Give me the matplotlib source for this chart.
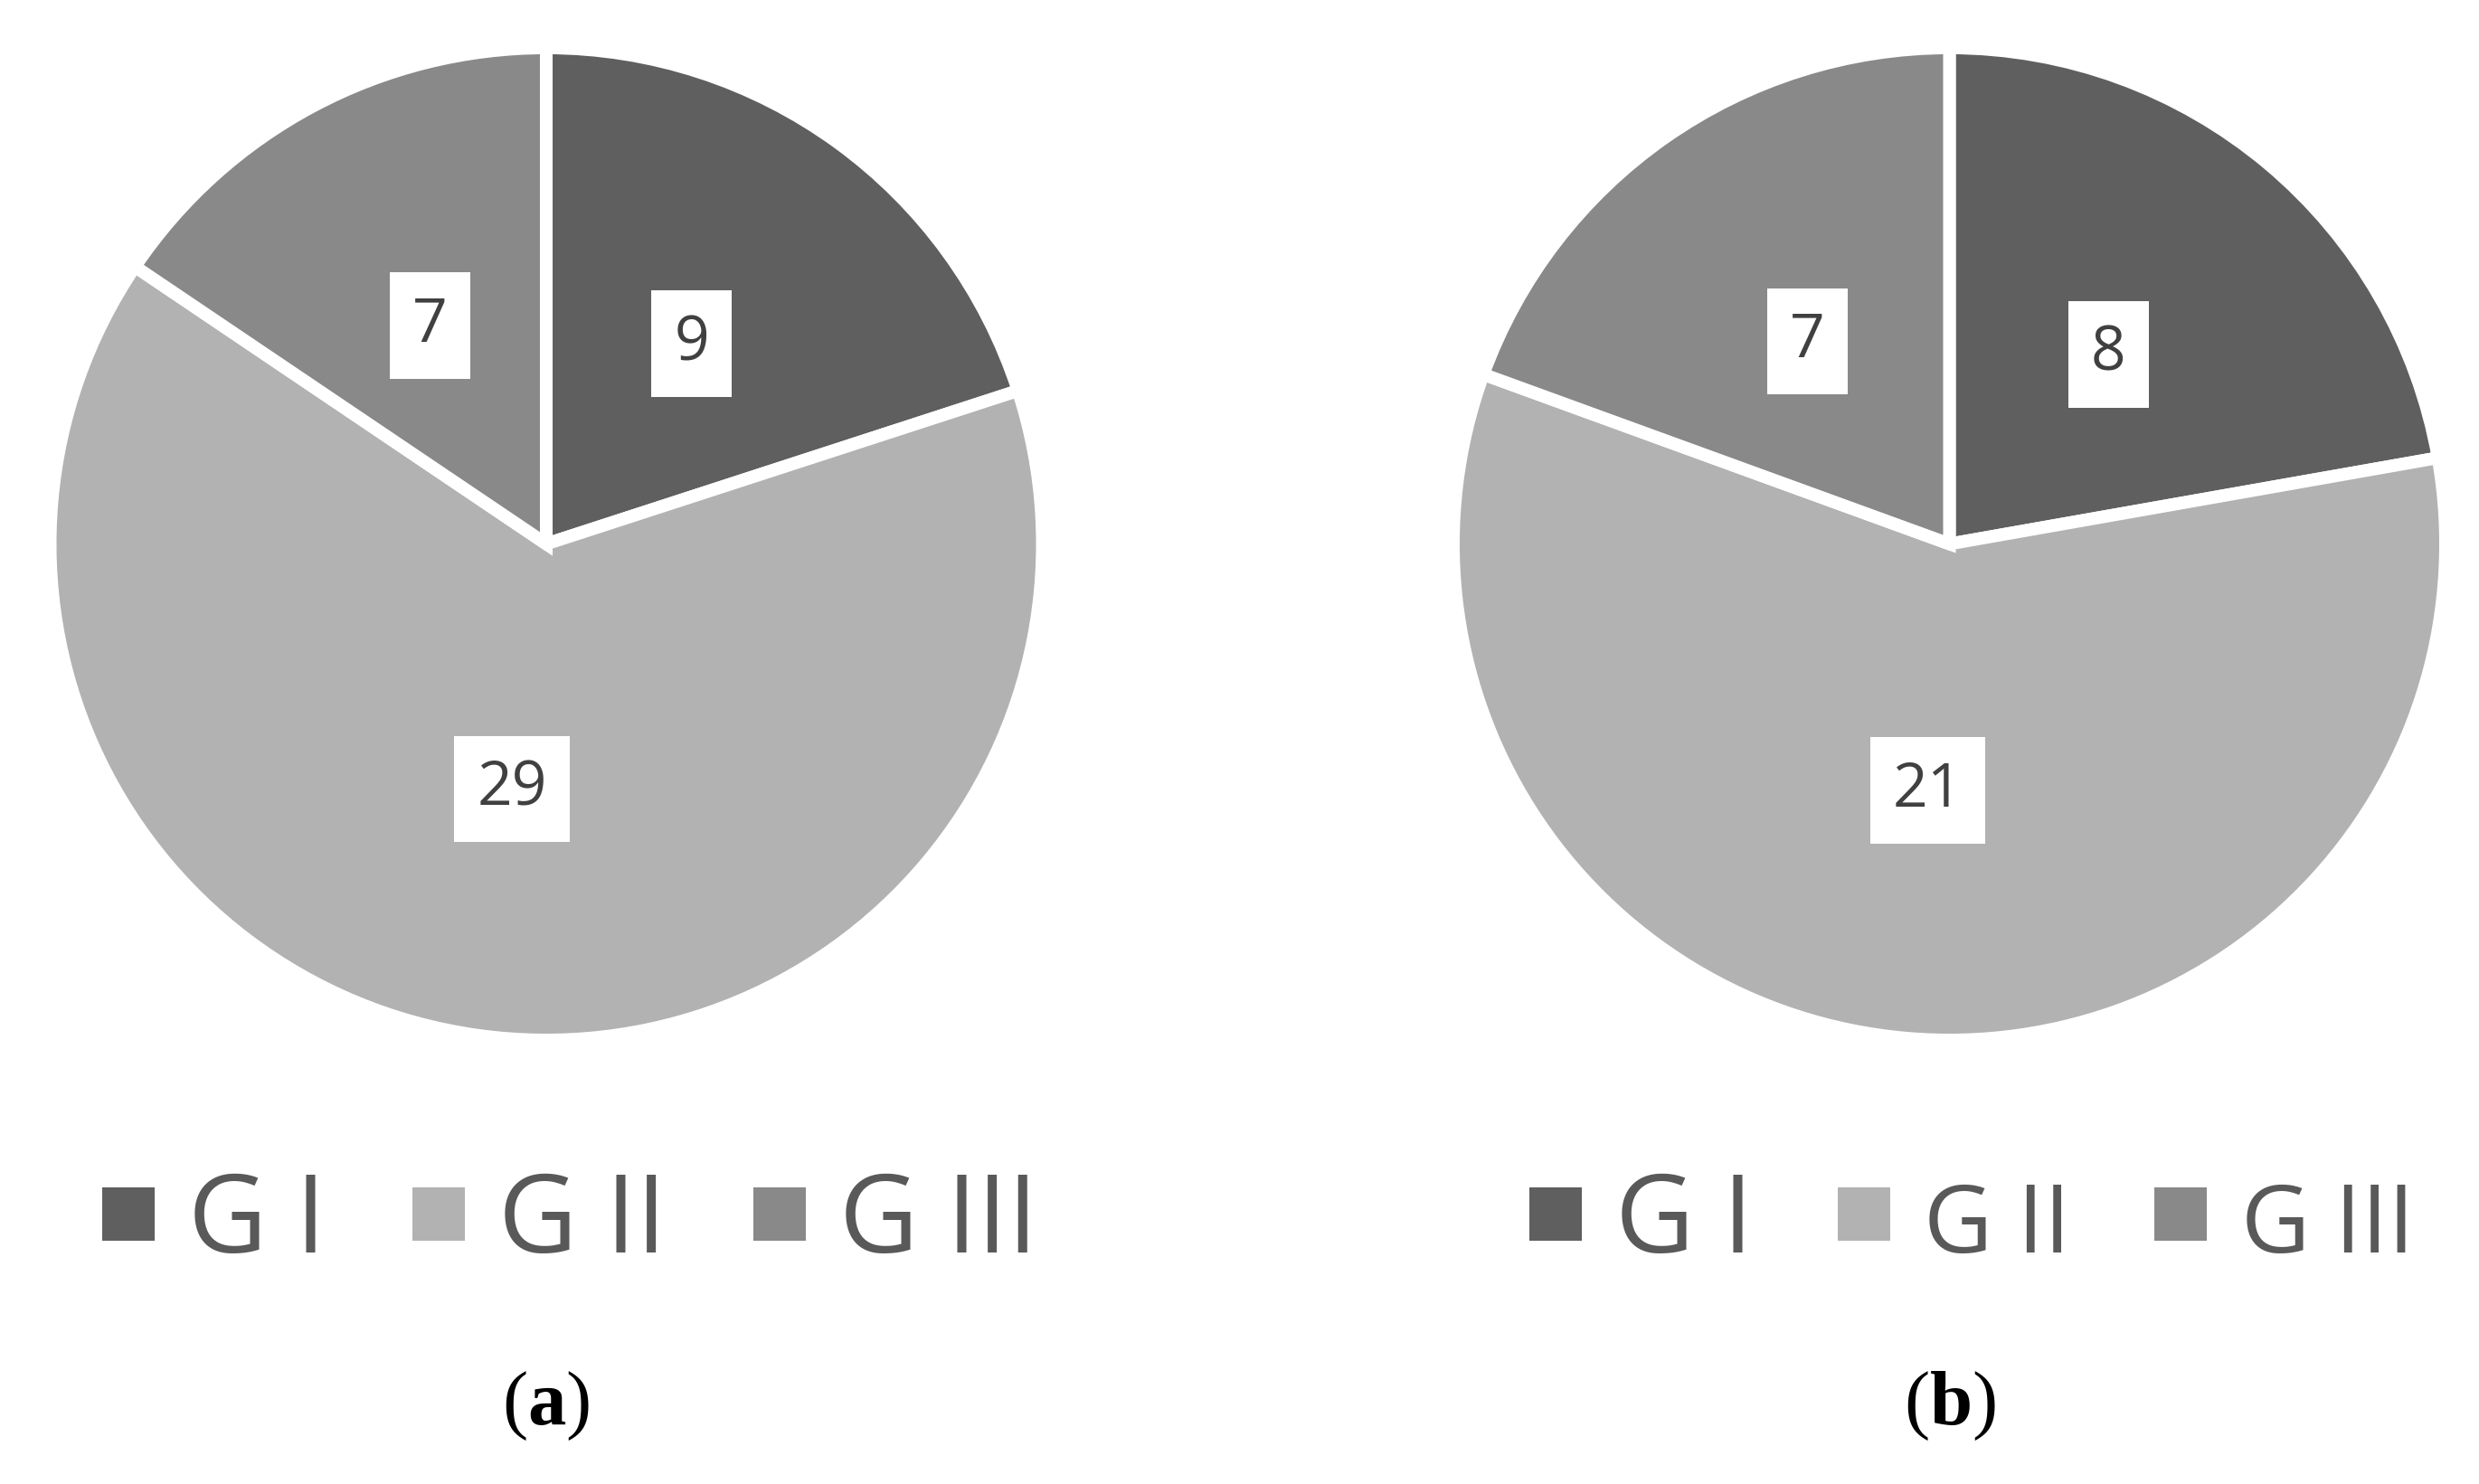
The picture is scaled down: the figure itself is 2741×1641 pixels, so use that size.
import matplotlib
matplotlib.use('Agg')
import matplotlib.pyplot as plt

# Data
groups = ['G I', 'G II', 'G III']
counts_a = [9, 29, 7]
counts_b = [8, 21, 7]
captions = ['a', 'b']

colors = ['#5f5f5f', '#b2b2b2', '#898989']

W, H = 2741, 1641
fig = plt.figure(figsize=(W / 100, H / 100), dpi=100, facecolor='white')

plt.rcParams['mathtext.fontset'] = 'custom'
plt.rcParams['mathtext.bf'] = 'Liberation Serif:bold'
plt.rcParams['mathtext.rm'] = 'Liberation Serif'


def pie_axes(cx, cy, r):
    return fig.add_axes([(cx - r) / W, 1 - (cy + r) / H, 2 * r / W, 2 * r / H])


def draw_pie(ax, counts):
    total = sum(counts)
    wedges, _, autotexts = ax.pie(
        counts, colors=colors, startangle=90, counterclock=False,
        radius=1.013, autopct=lambda p: '%d' % round(p * total / 100.0),
        pctdistance=0.505 / 1.013,
        wedgeprops=dict(edgecolor='white', linewidth=10.1),
        textprops=dict(color='#404040', fontsize=48.7, family='Open Sans'))
    for t in autotexts:
        t.set_bbox(dict(boxstyle='square,pad=0.37', facecolor='white',
                        edgecolor='none'))
    ax.set_xlim(-1, 1)
    ax.set_ylim(-1, 1)
    ax.axis('off')
    return wedges


def add_legend(ax, wedges, x, y, colspace):
    leg = ax.legend(wedges, groups, loc='center left',
                    bbox_to_anchor=(x / W, 1 - y / H),
                    bbox_transform=fig.transFigure, ncol=3, frameon=False,
                    handlelength=0.483, handleheight=0.377,
                    handletextpad=0.31, columnspacing=colspace,
                    borderpad=0, borderaxespad=0,
                    prop=dict(family='Open Sans', size=86.7))
    for t in leg.get_texts():
        t.set_color('#595959')
    # no white wedge outline on the legend keys
    for h in leg.legend_handles:
        h.set_edgecolor('none')
        h.set_linewidth(0)
    return leg


# (a)
ax1 = pie_axes(604, 601.5, 541.5)
w1 = draw_pie(ax1, counts_a)
add_legend(ax1, w1, 113, 1354, 0.79)

# (b)
ax2 = pie_axes(2155.5, 601.5, 541.5)
w2 = draw_pie(ax2, counts_b)
leg2 = add_legend(ax2, w2, 1691, 1354, 0.77)
# the last two labels are a bit smaller in (b)
leg2.get_texts()[1].set_fontsize(75.6)
leg2.get_texts()[2].set_fontsize(75.6)

for cx, c in zip([604, 2155.5], captions):
    fig.text(cx / W, 1 - 1555 / H, '(' + r'$\mathbf{%s}$' % c + ')',
             ha='center', va='center', fontsize=61,
             family='Liberation Serif', color='black')

fig.savefig('out.png', dpi=100, facecolor='white')
